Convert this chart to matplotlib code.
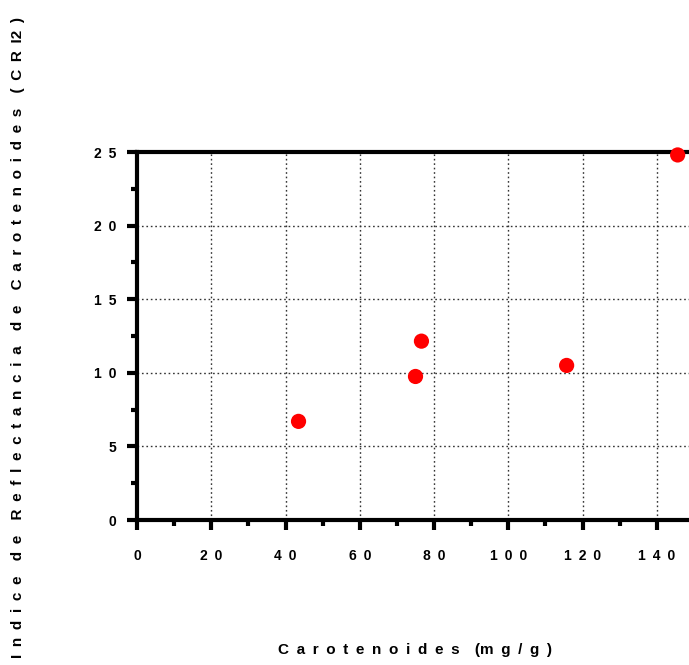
import matplotlib
matplotlib.use("Agg")
import matplotlib.pyplot as plt
from matplotlib.ticker import MultipleLocator

carotenoides = [43.5, 75.0, 76.6, 115.7, 145.6]
cri2 = [6.7, 9.75, 12.15, 10.5, 24.8]
xticks = [0, 20, 40, 60, 80, 100, 120, 140]
yticks = [0, 5, 10, 15, 20, 25]

SP = "\u2002"

def spaced(s):
    return SP.join(s)

plt.rcParams['font.family'] = ['Liberation Sans', 'DejaVu Sans']
fig = plt.figure(figsize=(6.89, 6.65), dpi=100)
ax = fig.add_axes([137/689, 145/665, 557/689, 368/665])

ax.set_xlim(0, 150)
ax.set_ylim(0, 25)
ax.set_xticks(xticks)
ax.set_yticks(yticks)
ax.set_xticklabels([spaced(str(v)) for v in xticks], fontsize=10, fontweight='bold')
ax.set_yticklabels([spaced(str(v)) for v in yticks], fontsize=10, fontweight='bold')
ax.xaxis.set_minor_locator(MultipleLocator(10))
ax.yaxis.set_minor_locator(MultipleLocator(2.5))
ax.tick_params(which='major', direction='out', length=7, width=3, pad=14, color='black')
ax.tick_params(axis='y', which='major', pad=8)
ax.tick_params(which='minor', direction='out', length=4, width=3, color='black')

for s in ['left', 'bottom', 'top']:
    ax.spines[s].set_linewidth(3)
ax.spines['right'].set_visible(False)

ax.grid(True, which='major', linestyle=(0, (1.2, 2)), color='#333333', linewidth=1)
ax.set_axisbelow(True)

ax.scatter(carotenoides, cri2, s=120, color='#ff0000', zorder=5, clip_on=False, edgecolors='none')

xlabel = SP.join("Carotenoides") + SP * 2 + "(" + SP.join("m") + SP + SP.join("g/g)")
ylabel = (SP.join("Indice") + SP * 2 + SP.join("de") + SP * 2 + SP.join("Reflectancia") + SP * 2
          + SP.join("de") + SP * 2 + SP.join("Carotenoides") + SP * 2 + SP.join("(CR") + SP + "I2" + SP + ")")
fig.text(415/689, 1 - 650/665, xlabel, fontsize=11, fontweight='bold', ha='center', va='center')
fig.text(18/689, 1 - 337/665, ylabel, fontsize=11, fontweight='bold', ha='center', va='center', rotation=90)

fig.savefig("out.png", dpi=100)
